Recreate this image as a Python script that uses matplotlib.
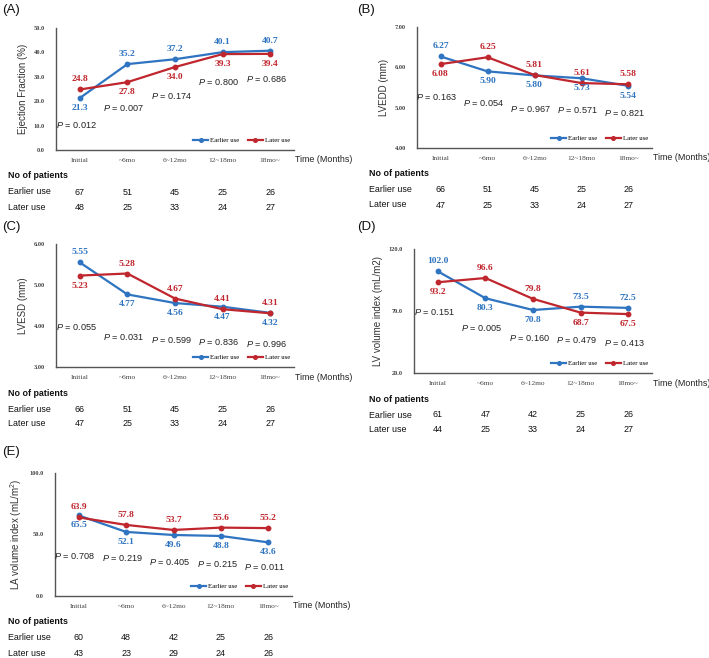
import matplotlib
matplotlib.use("Agg")
import matplotlib.pyplot as plt
from matplotlib.lines import Line2D

plt.rcParams['mathtext.fontset'] = 'custom'
plt.rcParams['mathtext.rm'] = 'Liberation Sans'
plt.rcParams['mathtext.it'] = 'Liberation Sans:italic'

categories = ["Initial", "~6mo", "6~12mo", "12~18mo", "18mo~"]

# Panel A
ef_earlier = [21.3, 35.2, 37.2, 40.1, 40.7]
ef_later = [24.8, 27.8, 34.0, 39.3, 39.4]
ef_p = ["0.012", "0.007", "0.174", "0.800", "0.686"]
ef_n_earlier = [67, 51, 45, 25, 26]
ef_n_later = [48, 25, 33, 24, 27]
ef_ticks = [0, 10, 20, 30, 40, 50]

# Panel B
lvedd_earlier = [6.27, 5.90, 5.80, 5.73, 5.54]
lvedd_later = [6.08, 6.25, 5.81, 5.61, 5.58]
lvedd_p = ["0.163", "0.054", "0.967", "0.571", "0.821"]
lvedd_n_earlier = [66, 51, 45, 25, 26]
lvedd_n_later = [47, 25, 33, 24, 27]
lvedd_ticks = [4.0, 5.0, 6.0, 7.0]

# Panel C
lvesd_earlier = [5.55, 4.77, 4.56, 4.47, 4.32]
lvesd_later = [5.23, 5.28, 4.67, 4.41, 4.31]
lvesd_p = ["0.055", "0.031", "0.599", "0.836", "0.996"]
lvesd_n_earlier = [66, 51, 45, 25, 26]
lvesd_n_later = [47, 25, 33, 24, 27]
lvesd_ticks = [3.0, 4.0, 5.0, 6.0]

# Panel D
lvvi_earlier = [102.0, 80.3, 70.8, 73.5, 72.5]
lvvi_later = [93.2, 96.6, 79.8, 68.7, 67.5]
lvvi_p = ["0.151", "0.005", "0.160", "0.479", "0.413"]
lvvi_n_earlier = [61, 47, 42, 25, 26]
lvvi_n_later = [44, 25, 33, 24, 27]
lvvi_ticks = [20.0, 70.0, 120.0]

# Panel E
lavi_earlier = [65.5, 52.1, 49.6, 48.8, 43.6]
lavi_later = [63.9, 57.8, 53.7, 55.6, 55.2]
lavi_p = ["0.708", "0.219", "0.405", "0.215", "0.011"]
lavi_n_earlier = [60, 48, 42, 25, 26]
lavi_n_later = [43, 23, 29, 24, 26]
lavi_ticks = [0.0, 50.0, 100.0]

BLUE = '#2E74C0'
RED = '#C0262D'
W, H = 709, 658

fig = plt.figure(figsize=(W / 100, H / 100), dpi=100)


def rect(left, right, top, bottom):
    return [left / W, 1 - bottom / H, (right - left) / W, (bottom - top) / H]


panels = [
    dict(tag="(A)", lab=(2, 10), box=(56, 294, 28, 150), e=ef_earlier, l=ef_later, p=ef_p,
         ne=ef_n_earlier, nl=ef_n_later, ticks=ef_ticks, fmt="{:.1f}", dfmt="{:.1f}",
         ylabel="Ejection Fraction (%)", rowx=8,
         epos=[-1, 1, 1, 1, 1], lpos=[1, -1, -1, -1, -1],
         py=[0.205, 0.344, 0.443, 0.557, 0.582]),
    dict(tag="(B)", lab=(357, 10), box=(417, 652, 27, 148), e=lvedd_earlier, l=lvedd_later, p=lvedd_p,
         ne=lvedd_n_earlier, nl=lvedd_n_later, ticks=lvedd_ticks, fmt="{:.2f}", dfmt="{:.2f}",
         ylabel="LVEDD (mm)", rowx=369,
         epos=[1, -1, -1, -1, -1], lpos=[-1, 1, 1, 1, 1],
         py=[0.42, 0.37, 0.32, 0.31, 0.29]),
    dict(tag="(C)", lab=(2, 227), box=(56, 294, 244, 367), e=lvesd_earlier, l=lvesd_later, p=lvesd_p,
         ne=lvesd_n_earlier, nl=lvesd_n_later, ticks=lvesd_ticks, fmt="{:.2f}", dfmt="{:.2f}",
         ylabel="LVESD (mm)", rowx=8,
         epos=[1, -1, -1, -1, -1], lpos=[-1, 1, 1, 1, 1],
         py=[0.325, 0.244, 0.22, 0.20, 0.187]),
    dict(tag="(D)", lab=(357, 227), box=(414, 652, 249, 373), e=lvvi_earlier, l=lvvi_later, p=lvvi_p,
         ne=lvvi_n_earlier, nl=lvvi_n_later, ticks=lvvi_ticks, fmt="{:.1f}", dfmt="{:.1f}",
         ylabel="LV volume index (mL/m2)", rowx=369,
         epos=[1, -1, -1, 1, 1], lpos=[-1, 1, 1, -1, -1],
         py=[0.49, 0.36, 0.28, 0.27, 0.24]),
    dict(tag="(E)", lab=(2, 452), box=(55, 292, 473, 596), e=lavi_earlier, l=lavi_later, p=lavi_p,
         ne=lavi_n_earlier, nl=lavi_n_later, ticks=lavi_ticks, fmt="{:.1f}", dfmt="{:.1f}",
         ylabel="LA volume index (mL/m$^2$)", rowx=8,
         epos=[-1, -1, -1, -1, -1], lpos=[1, 1, 1, 1, 1],
         py=[0.325, 0.31, 0.28, 0.26, 0.236]),
]

x = list(range(len(categories)))
SERIF = 'Liberation Serif'
SANS = 'Liberation Sans'
TXT = 6.4

for pn in panels:
    left, right, top, bottom = pn['box']
    ax = fig.add_axes(rect(left, right, top, bottom))
    ax.set_xlim(-0.5, len(categories) - 0.5)
    ax.set_ylim(pn['ticks'][0], pn['ticks'][-1])
    for s in ['top', 'right']:
        ax.spines[s].set_visible(False)
    for s in ['left', 'bottom']:
        ax.spines[s].set_color('#555555')
        ax.spines[s].set_linewidth(1.0)
    ax.set_yticks(pn['ticks'])
    ax.set_yticklabels([pn['fmt'].format(t) for t in pn['ticks']], fontfamily=SERIF,
                       fontsize=4.6, color='#444444', fontweight='bold')
    ax.set_xticks(x)
    ax.set_xticklabels(categories, fontfamily=SERIF, fontsize=5.3, color='#444444')
    ax.tick_params(axis='both', length=0)
    ax.tick_params(axis='x', pad=6)
    ax.tick_params(axis='y', pad=8)
    ax.set_ylabel(pn['ylabel'], fontfamily=SANS, fontsize=7, color='#333333', labelpad=4)

    ax.plot(x, pn['e'], color=BLUE, lw=1.6, marker='o', ms=3.2, label='Earlier use', zorder=3)
    ax.plot(x, pn['l'], color=RED, lw=1.6, marker='o', ms=3.2, label='Later use', zorder=3)

    for xi, v, d in zip(x, pn['e'], pn['epos']):
        ax.annotate(pn['dfmt'].format(v), (xi, v), xytext=(0, 10 * d), textcoords='offset pixels',
                    ha='center', va='center', fontfamily=SERIF, fontweight='bold',
                    fontsize=6.8, color=BLUE)
    for xi, v, d in zip(x, pn['l'], pn['lpos']):
        ax.annotate(pn['dfmt'].format(v), (xi, v), xytext=(0, 10 * d), textcoords='offset pixels',
                    ha='center', va='center', fontfamily=SERIF, fontweight='bold',
                    fontsize=6.8, color=RED)

    for xi, ptxt, yy in zip(x, pn['p'], pn['py']):
        ax.text(xi - 0.08, yy, "$P$ = " + ptxt, transform=ax.get_xaxis_transform(),
                ha='center', va='center', fontfamily=SANS, fontsize=6.6, color='#222222')

    handles = [Line2D([], [], color=BLUE, lw=1.6, marker='o', ms=2.6),
               Line2D([], [], color=RED, lw=1.6, marker='o', ms=2.6)]
    ax.legend(handles, ['Earlier use', 'Later use'], loc='lower right',
              bbox_to_anchor=(1.0, 0.02), ncol=2, frameon=False,
              prop={'family': SERIF, 'size': 4.9}, handlelength=2.2,
              handletextpad=0.3, columnspacing=1.2, borderaxespad=0.2)

    # Time (Months)
    fig.text((right + 1) / W, 1 - (bottom + 10) / H, "Time (Months)", ha='left', va='center',
             fontfamily=SANS, fontsize=6.4, color='#222222')

    # panel tag
    fig.text(pn['lab'][0] / W, 1 - pn['lab'][1] / H, pn['tag'], ha='left', va='center',
             fontfamily=SANS, fontsize=9.5, color='#111111')

    # patient table
    fig.text(pn['rowx'] / W, 1 - (bottom + 26) / H, "No of patients", ha='left', va='center',
             fontfamily=SANS, fontsize=TXT, fontweight='bold', color='#111111')
    fig.text(pn['rowx'] / W, 1 - (bottom + 42) / H, "Earlier use", ha='left', va='center',
             fontfamily=SANS, fontsize=TXT, color='#111111')
    fig.text(pn['rowx'] / W, 1 - (bottom + 57) / H, "Later use", ha='left', va='center',
             fontfamily=SANS, fontsize=TXT, color='#111111')
    for xi, ne, nl in zip(x, pn['ne'], pn['nl']):
        ax.annotate(str(ne), (xi, 0), xycoords=('data', 'axes fraction'),
                    xytext=(0, -42), textcoords='offset pixels', ha='center', va='center',
                    fontfamily=SANS, fontsize=TXT, color='#111111', annotation_clip=False)
        ax.annotate(str(nl), (xi, 0), xycoords=('data', 'axes fraction'),
                    xytext=(0, -57), textcoords='offset pixels', ha='center', va='center',
                    fontfamily=SANS, fontsize=TXT, color='#111111', annotation_clip=False)

fig.savefig("out.png", dpi=100, facecolor='white')
